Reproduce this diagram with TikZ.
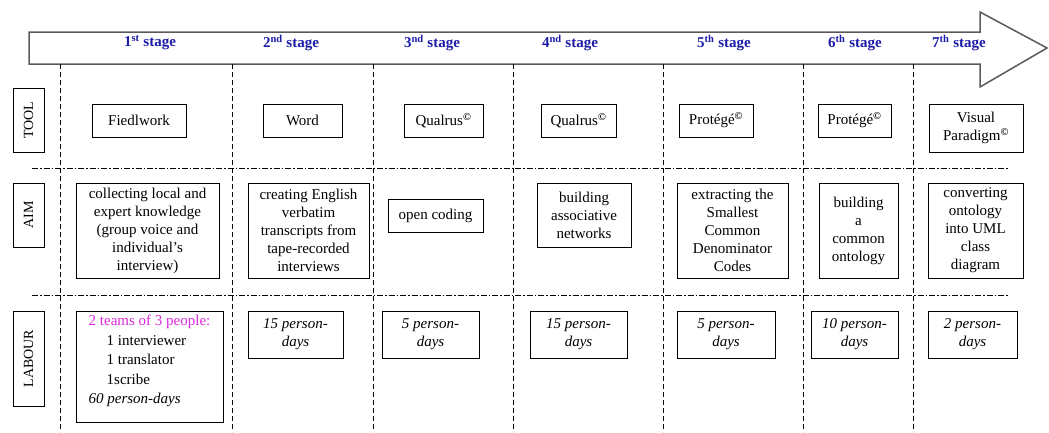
\documentclass[tikz,border=0pt]{standalone}
\usepackage{fontspec}
\setmainfont{Liberation Serif}
\definecolor{stageblue}{RGB}{28,28,168}
\definecolor{arrowgrey}{RGB}{90,90,90}
\definecolor{teammag}{RGB}{220,40,220}
\newcommand{\cpy}{\textsuperscript{\textbf{\textcopyright}}}
\begin{document}
\begin{tikzpicture}[x=1pt,y=-1pt,
  every node/.style={font=\fontsize{15}{18}\selectfont},
  box/.style={draw=black, line width=0.9pt, inner sep=0pt, align=center},
  rowlabel/.style={draw=black, line width=0.9pt, inner sep=0pt, rotate=90, minimum height=31, font=\fontsize{14}{16}\selectfont},
  stagelabel/.style={text=stageblue, font=\fontsize{15}{18}\selectfont\bfseries},
  vline/.style={line width=0.8pt, dash pattern=on 5pt off 3pt},
  hline/.style={line width=0.8pt, dash pattern=on 6pt off 2pt on 1.5pt off 2pt},
  lab/.style={font=\fontsize{15}{18}\selectfont\itshape}
]
\useasboundingbox (0,0) rectangle (1049,432);
% arrow
\draw[arrowgrey, line width=1.5pt, line join=miter] (29,32) -- (980,32) -- (980,12) -- (1047,48) -- (980,87) -- (980,64) -- (29,64) -- cycle;
% stage labels
\node[stagelabel] (s1) at (150,43) {1\textsuperscript{st} stage};
\node[stagelabel] (s2) at (291,43) {2\textsuperscript{nd} stage};
\node[stagelabel] (s3) at (432,43) {3\textsuperscript{nd} stage};
\node[stagelabel] (s4) at (570,43) {4\textsuperscript{nd} stage};
\node[stagelabel] (s5) at (724,43) {5\textsuperscript{th} stage};
\node[stagelabel] (s6) at (855,43) {6\textsuperscript{th} stage};
\node[stagelabel] (s7) at (959,43) {7\textsuperscript{th} stage};
% separators
\foreach \x/\n in {60/a,232/b,373/c,513/d,663/e,803/f,913/g}{
  \coordinate (vt\n) at (\x,64);
  \coordinate (vb\n) at (\x,432);
  \draw[vline] (vt\n) -- (vb\n);
}
\coordinate (h1l) at (32,168); \coordinate (h1r) at (1008,168);
\coordinate (h2l) at (32,295); \coordinate (h2r) at (1008,295);
\draw[hline] (h1l) -- (h1r);
\draw[hline] (h2l) -- (h2r);
% row labels
\node[rowlabel, minimum width=64] (rtool) at (28.5,120) {TOOL};
\node[rowlabel, minimum width=64] (raim) at (28.5,215) {AIM};
\node[rowlabel, minimum width=95] (rlab) at (28.5,358.5) {LABOUR};
% TOOL row
\node[box, minimum width=94, minimum height=33] (t1) at (139,120.5) {Fiedlwork};
\node[box, minimum width=79, minimum height=33] (t2) at (302.5,120.5) {Word};
\node[box, minimum width=79, minimum height=33] (t3) at (443.5,120.5) {Qualrus\cpy};
\node[box, minimum width=75, minimum height=33] (t4) at (578.5,120.5) {Qualrus\cpy};
\node[box, minimum width=74, minimum height=33] (t5) at (716,120.5) {Protégé\cpy};
\node[box, minimum width=73, minimum height=33] (t6) at (854.5,120.5) {Protégé\cpy};
\node[box, minimum width=94, minimum height=48] (t7) at (976,128) {Visual\\Paradigm\cpy};
% AIM row
\node[box, minimum width=143, minimum height=95] (a1) at (147.5,230.5) {collecting local and\\expert knowledge\\(group voice and\\individual’s\\interview)};
\node[box, minimum width=121, minimum height=95] (a2) at (308.5,230.5) {creating English\\verbatim\\transcripts from\\tape-recorded\\interviews};
\node[box, minimum width=95, minimum height=33] (a3) at (435.5,215.5) {open coding};
\node[box, minimum width=94, minimum height=64] (a4) at (584,215) {building\\associative\\networks};
\node[box, minimum width=111, minimum height=95] (a5) at (732.5,230.5) {extracting the\\Smallest\\Common\\Denominator\\Codes};
\node[box, minimum width=79, minimum height=95] (a6) at (858.5,230.5) {building\\a\\common\\ontology};
\node[box, minimum width=95, minimum height=95] (a7) at (975.5,230.5) {converting\\ontology\\into UML\\class\\diagram};
% LABOUR row
\node[box, align=left, minimum width=147, minimum height=111, font=\fontsize{15}{19.5}\selectfont] (l1) at (149.5,366.5) {\textcolor{teammag}{2 teams of 3 people:}\\\hspace*{18pt}1 interviewer\\\hspace*{18pt}1 translator\\\hspace*{18pt}1scribe\\\textit{60 person-days}\rule[-14pt]{0pt}{14pt}};
\node[box, lab, minimum width=95, minimum height=47] (l2) at (295.5,334.5) {15 person-\\days};
\node[box, lab, minimum width=97, minimum height=47] (l3) at (430.5,334.5) {5 person-\\days};
\node[box, lab, minimum width=97, minimum height=47] (l4) at (578.5,334.5) {15 person-\\days};
\node[box, lab, minimum width=98, minimum height=47] (l5) at (726,334.5) {5 person-\\days};
\node[box, lab, minimum width=87, minimum height=47] (l6) at (854.5,334.5) {10 person-\\days};
\node[box, lab, minimum width=89, minimum height=47] (l7) at (972.5,334.5) {2 person-\\days};
\end{tikzpicture}
\end{document}
